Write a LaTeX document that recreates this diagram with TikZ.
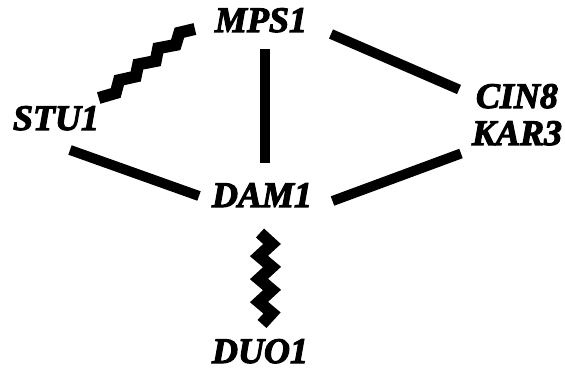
\documentclass[tikz,border=0pt]{standalone}
\usepackage{fontspec}
\setmainfont{Liberation Serif}
\newfontface\genefont{Liberation Serif Bold Italic}[FakeBold=3]
\begin{document}
\begin{tikzpicture}[x=1pt,y=-1pt,
  gene/.style={font=\fontsize{36}{36}\genefont, anchor=base, inner sep=0pt, text depth=0pt},
  edge/.style={line width=10pt, line cap=butt},
  zig/.style={line width=12pt, line cap=butt, line join=miter, miter limit=10}]
\useasboundingbox (0,0) rectangle (565,371);
% genes
\node[gene] (mps) at (261,32) {MPS1};
\node[gene] (stu) at (56,130) {STU1};
\node[gene] (dam) at (262,207) {DAM1};
\node[gene] (cin) at (517,108) {CIN8};
\node[gene] (kar) at (517,145) {KAR3};
\node[gene] (duo) at (260,363) {DUO1};
% connector ends
\coordinate (mps-s) at (265,49);
\coordinate (dam-n) at (265,163);
\coordinate (mps-e) at (331,34);
\coordinate (cin-w) at (459,89.5);
\coordinate (stu-e) at (70,150);
\coordinate (dam-w) at (199,196);
\coordinate (dam-e) at (332.5,201);
\coordinate (kar-w) at (461,153.5);
\coordinate (stu-n) at (98.7,98);
\coordinate (dam-s) at (260,233);
% straight connectors
\draw[edge] (mps-s) -- (dam-n);
\draw[edge] (mps-e) -- (cin-w);
\draw[edge] (stu-e) -- (dam-w);
\draw[edge] (dam-e) -- (kar-w);
% zigzag connectors
\draw[zig] (stu-n) -- ++(17,-5) -- ++(3.4,-12.8) -- ++(16.6,-3.7) -- ++(2.5,-12.1)
  -- ++(17.5,-3.4) -- ++(2.5,-12.8) -- ++(17.5,-3.3) -- ++(3.7,-12.2) -- ++(15.5,-3.7);
\draw[zig] (dam-s) -- ++(12,11) -- ++(-13,12) -- ++(13,11) -- ++(-13,12)
  -- ++(13,11) -- ++(-13,12) -- ++(13,11) -- ++(-10,11);
\end{tikzpicture}
\end{document}
